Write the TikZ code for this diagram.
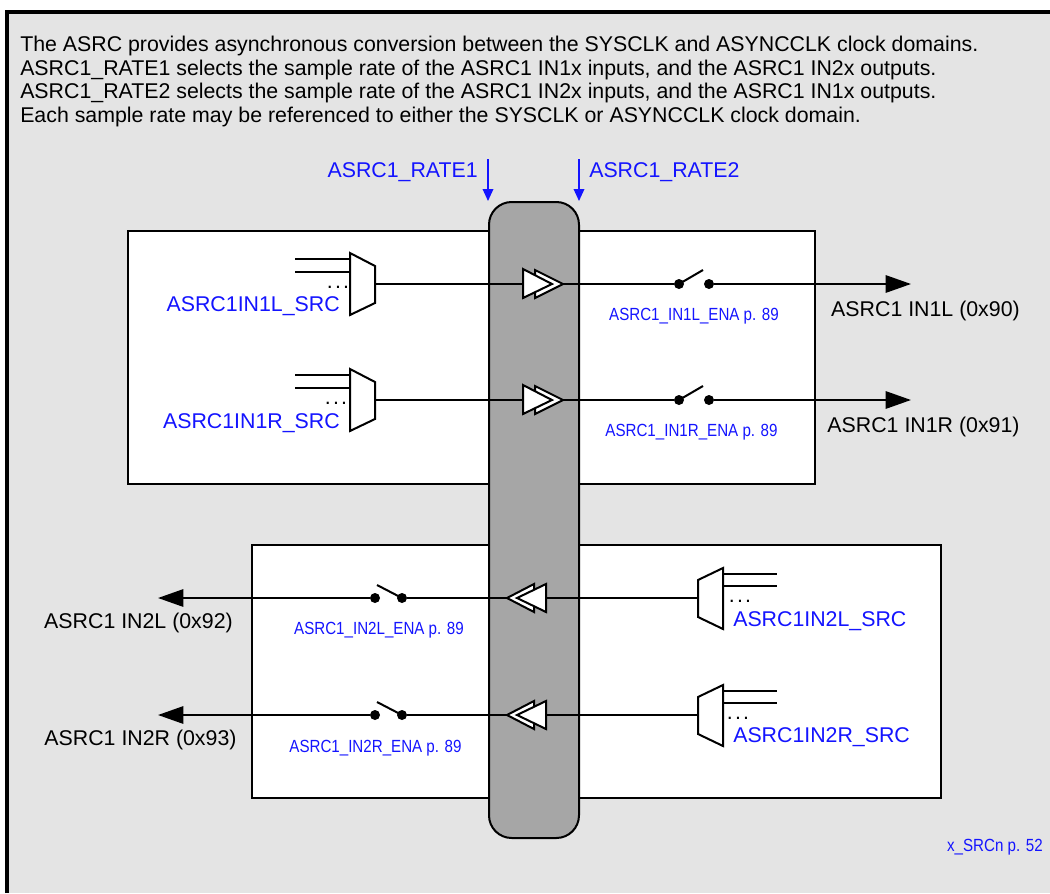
\documentclass[tikz,border=0pt]{standalone}
\usepackage{xcolor}
\usepackage{fontspec}
\setmainfont{Liberation Sans}
\newfontfamily\narrowfont[FakeStretch=0.86]{Liberation Sans}
\usetikzlibrary{arrows.meta, positioning}
\definecolor{framegray}{RGB}{228,228,228}
\definecolor{busgray}{RGB}{166,166,166}
\definecolor{regblue}{RGB}{20,20,255}

\begin{document}
\begin{tikzpicture}[x=0.75pt, y=-0.75pt,
          wire/.style={draw=black, line width=1.5pt},
          signal/.style={wire, -{Triangle[length=19pt, width=13pt]}},
          ratearrow/.style={draw=regblue, line width=1pt, -{Triangle[length=9pt, width=8pt]}},
          panel/.style={draw=black, line width=1.5pt, fill=white},
          mux/.style={draw=black, line width=1.5pt, fill=white},
          conv/.style={draw=black, line width=1.5pt, fill=white, line join=miter},
          contact/.style={circle, fill=black, minimum size=7.5pt, inner sep=0pt},
          dots/.style={font=\fontsize{16}{16}\selectfont, inner sep=0pt, anchor=base},
          regname/.style={font=\fontsize{16}{16}\selectfont, text=regblue, inner sep=0pt},
          enaname/.style={font=\narrowfont\fontsize{13.2}{13.2}\selectfont, text=regblue, inner sep=0pt},
          outname/.style={font=\fontsize{16}{16}\selectfont, inner sep=0pt}
        ]
        \useasboundingbox (0,0) rectangle (1050,893);
        % Background frame
        \fill[framegray] (7,12) rectangle (1050,893);
        \draw[line width=2.7pt] (7,893) -- (7,12) -- (1050,12);
        \node[font=\fontsize{16}{17.7}\selectfont, align=left, anchor=north west, inner sep=0pt] (notes) at (20,36) {The ASRC provides asynchronous conversion between the SYSCLK and ASYNCCLK clock domains.\\ASRC1\_RATE1 selects the sample rate of the ASRC1 IN1x inputs, and the ASRC1 IN2x outputs.\\ASRC1\_RATE2 selects the sample rate of the ASRC1 IN2x inputs, and the ASRC1 IN1x outputs.\\Each sample rate may be referenced to either the SYSCLK or ASYNCCLK clock domain.};

        % Panels and the shared bar
        \draw[panel] (128,231) rectangle (815,484);
        \draw[panel] (252,545) rectangle (941,798);
        \draw[draw=black, line width=1.5pt, fill=busgray, rounded corners=17pt] (489,202) rectangle (579,838);
        \coordinate (barLeft) at (488,201);
        \coordinate (barRight) at (579,201);

        % Rate labels
        \node[regname, anchor=base east] (rateA) at (478,177) {ASRC1\_RATE1};
        \node[regname, anchor=base west] (rateB) at (589,177) {ASRC1\_RATE2};
        \draw[ratearrow] (488,159) -- (barLeft);
        \draw[ratearrow] (579,159) -- (barRight);

        % IN1L
        \coordinate (muxA) at (375,284);
        \coordinate (convA) at (563,284);
        \coordinate (outA) at (911,284);
        \node[contact] (swAa) at (679,284) {};
        \node[contact] (swAb) at (709,284) {};
        \draw[wire] (muxA) -- (convA) -- (swAa);
        \draw[signal] (swAb) -- (outA);
        \draw[wire] (swAa.center) -- (703,270);
        \draw[wire] (295,259) -- (350,259);
        \draw[wire] (295,272) -- (350,272);
        \draw[mux] (350,253) -- (375,266) -- (375,303) -- (350,315) -- cycle;
        \node[dots] at (338,288) {.\kern1.6pt.\kern1.6pt.};
        \draw[conv] (535,270) -- (563,284) -- (535,298) -- cycle;
        \draw[conv] (523,269) -- (552,284) -- (523,298) -- cycle;
        \node[regname, anchor=base east] (srcA) at (340,311) {ASRC1IN1L\_SRC};
        \node[enaname, anchor=base] (enaA) at (694,320) {ASRC1\_IN1L\_ENA p. 89};
        \node[outname, anchor=base] (nameA) at (925.5,316) {ASRC1 IN1L (0x90)};

        % IN1R
        \coordinate (muxB) at (375,400);
        \coordinate (convB) at (563,400);
        \coordinate (outB) at (911,400);
        \node[contact] (swBa) at (679,400) {};
        \node[contact] (swBb) at (709,400) {};
        \draw[wire] (muxB) -- (convB) -- (swBa);
        \draw[signal] (swBb) -- (outB);
        \draw[wire] (swBa.center) -- (703,386);
        \draw[wire] (295,375) -- (350,375);
        \draw[wire] (295,388) -- (350,388);
        \draw[mux] (350,369) -- (375,382) -- (375,419) -- (350,431) -- cycle;
        \node[dots] at (336,404) {.\kern1.6pt.\kern1.6pt.};
        \draw[conv] (535,386) -- (563,400) -- (535,414) -- cycle;
        \draw[conv] (523,385) -- (552,400) -- (523,414) -- cycle;
        \node[regname, anchor=base east] (srcB) at (340,428) {ASRC1IN1R\_SRC};
        \node[enaname, anchor=base] (enaB) at (691.5,436) {ASRC1\_IN1R\_ENA p. 89};
        \node[outname, anchor=base] (nameB) at (923.5,432) {ASRC1 IN1R (0x91)};

        % IN2L
        \coordinate (muxC) at (698,598);
        \coordinate (convC) at (507,598);
        \coordinate (outC) at (158,598);
        \node[contact] (swCa) at (402,598) {};
        \node[contact] (swCb) at (375,598) {};
        \draw[wire] (muxC) -- (convC) -- (swCa);
        \draw[signal] (swCb) -- (outC);
        \draw[wire] (swCa.center) -- (377,585);
        \draw[wire] (723,574) -- (777,574);
        \draw[wire] (723,586) -- (777,586);
        \draw[mux] (723,568) -- (698,580) -- (698,617) -- (723,629) -- cycle;
        \node[dots] at (740,602) {.\kern1.6pt.\kern1.6pt.};
        \draw[conv] (534,584) -- (507,598) -- (534,612) -- cycle;
        \draw[conv] (546,584) -- (517,598) -- (546,612) -- cycle;
        \node[regname, anchor=base west] (srcC) at (733,626) {ASRC1IN2L\_SRC};
        \node[enaname, anchor=base] (enaC) at (379,634) {ASRC1\_IN2L\_ENA p. 89};
        \node[outname, anchor=base] (nameC) at (138.5,628) {ASRC1 IN2L (0x92)};

        % IN2R
        \coordinate (muxD) at (698,715);
        \coordinate (convD) at (507,715);
        \coordinate (outD) at (158,715);
        \node[contact] (swDa) at (402,715) {};
        \node[contact] (swDb) at (375,715) {};
        \draw[wire] (muxD) -- (convD) -- (swDa);
        \draw[signal] (swDb) -- (outD);
        \draw[wire] (swDa.center) -- (377,702);
        \draw[wire] (723,691) -- (777,691);
        \draw[wire] (723,703) -- (777,703);
        \draw[mux] (723,685) -- (698,697) -- (698,734) -- (723,746) -- cycle;
        \node[dots] at (738,719) {.\kern1.6pt.\kern1.6pt.};
        \draw[conv] (534,701) -- (507,715) -- (534,729) -- cycle;
        \draw[conv] (546,701) -- (517,715) -- (546,729) -- cycle;
        \node[regname, anchor=base west] (srcD) at (733,742) {ASRC1IN2R\_SRC};
        \node[enaname, anchor=base] (enaD) at (375.5,752) {ASRC1\_IN2R\_ENA p. 89};
        \node[outname, anchor=base] (nameD) at (140.5,745) {ASRC1 IN2R (0x93)};

        \node[enaname, anchor=base east] (srcRef) at (1043,851) {x\_SRCn p. 52};
        \end{tikzpicture}
\end{document}
